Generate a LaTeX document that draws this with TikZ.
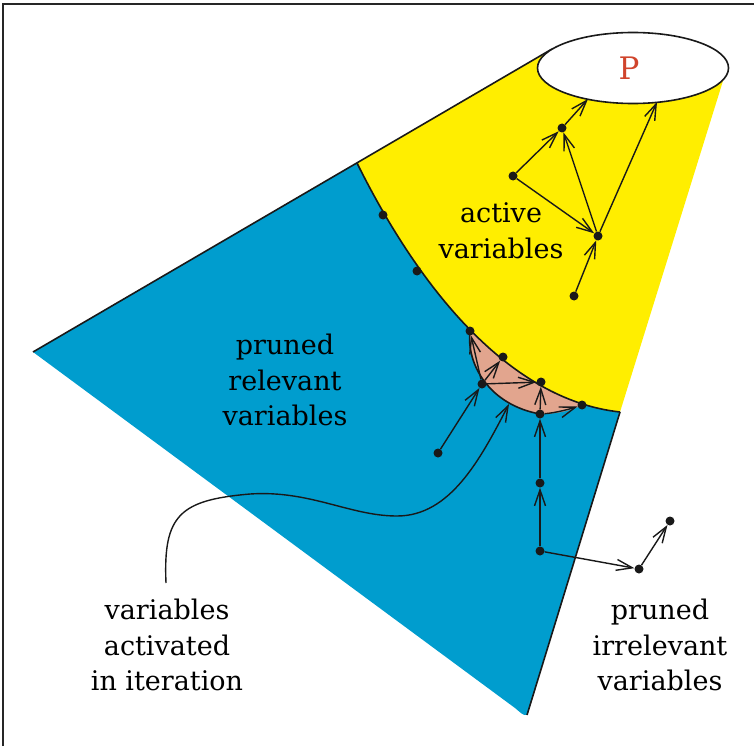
\documentclass[tikz,border=0pt]{standalone}
\usepackage{fontspec}
\setmainfont{DejaVu Serif}
\usetikzlibrary{arrows.meta,shapes.geometric}
\definecolor{coneblue}{RGB}{0,157,206}
\definecolor{coneyellow}{RGB}{255,238,0}
\definecolor{salmonfill}{RGB}{226,165,142}
\definecolor{pred}{RGB}{208,68,44}
\begin{document}
\begin{tikzpicture}[x=1pt,y=-1pt,
  dot/.style={circle,fill=black!90,inner sep=0pt,minimum size=9pt},
  arr/.style={-{Straight Barb[length=16pt,width=11pt]},line width=1.4pt,black!90},
  rim/.style={line width=1.6pt,black!90},
  lbl/.style={font=\fontsize{27}{35.5}\selectfont,align=center,inner sep=0pt}]
\useasboundingbox (0,0) rectangle (754,746);
% frame
\draw[line width=1.8pt,black!85] (3,746) -- (3,4) -- (754,4);
% blue region
\fill[coneblue] (357,163) -- (33,352) -- (515,708)
  .. controls (520,712) and (523,716) .. (527,715) -- (620,412)
  .. controls (510,400) and (420,290) .. (357,163) -- cycle;
% salmon region (upper part hidden by yellow)
\fill[salmonfill] (470,331) .. controls (466,365) and (490,405) .. (540,414)
  .. controls (560,414) and (575,409) .. (582,405) -- (600,395) -- (480,318) -- cycle;
% yellow region
\fill[coneyellow] (357,163) -- (552,49) -- (727,68) -- (620,412)
  .. controls (510,400) and (420,290) .. (357,163) -- cycle;
% rims
\draw[rim] (33,352) -- (552,49);
\draw[rim] (620,412) -- (527,715);
\draw[rim] (357,163) .. controls (420,290) and (510,400) .. (620,412);
\draw[rim] (470,331) .. controls (466,365) and (490,405) .. (540,414);
% ellipse P
\node[draw=black!90,line width=1.6pt,fill=white,ellipse,minimum width=191pt,minimum height=71pt,inner sep=0pt] (ell) at (633,68) {};
\node[font=\fontsize{31}{31}\selectfont,text=pred] (P) at (629,68) {P};
\coordinate (e1) at (588,99);
\coordinate (e2) at (657,102);
% dots
\node[dot] (a1) at (513,176) {};
\node[dot] (a2) at (562,128) {};
\node[dot] (a3) at (598,236) {};
\node[dot] (a4) at (574,296) {};
\node[dot] (b1) at (383,215) {};
\node[dot] (b2) at (417,271) {};
\node[dot] (s1) at (470,331) {};
\node[dot] (s2) at (503,357) {};
\node[dot] (s3) at (482,384) {};
\node[dot] (s4) at (541,382) {};
\node[dot] (s5) at (582,405) {};
\node[dot] (s6) at (540,414) {};
\node[dot] (d1) at (438,453) {};
\node[dot] (v1) at (540,483) {};
\node[dot] (v2) at (540,551) {};
\node[dot] (w1) at (639,569) {};
\node[dot] (w2) at (670,521) {};
\coordinate (c0) at (166,583);
\coordinate (c1) at (509,404);
% arrows
\draw[arr] (a1) -- (a2);
\draw[arr] (a2) -- (e1);
\draw[arr] (a1) -- (a3);
\draw[arr] (a3) -- (a2);
\draw[arr] (a3) -- (e2);
\draw[arr] (a4) -- (a3);
\draw[arr] (s3) -- (s1);
\draw[arr] (s3) -- (s2);
\draw[arr] (s3) -- (s4);
\draw[arr] (d1) -- (s3);
\draw[arr] (s6) -- (s4);
\draw[arr] (s6) .. controls (555,413) and (570,409) .. (s5);
\draw[arr] (v1) -- (s6);
\draw[arr] (v2) -- (v1);
\draw[arr] (v2) -- (w1);
\draw[arr] (w1) -- (w2);
\draw[arr] (c0) .. controls (163,515) and (180,500) .. (250,494)
  .. controls (310,490) and (350,516) .. (397,516)
  .. controls (450,516) and (480,460) .. (c1);
% labels
\node[lbl] (tact) at (501,231) {active\\variables};
\node[lbl] (tpr) at (285,380) {pruned\\relevant\\variables};
\node[lbl] (tit) at (167,645) {variables\\activated\\in iteration};
\node[lbl] (tirr) at (660,645) {pruned\\irrelevant\\variables};
\end{tikzpicture}
\end{document}
